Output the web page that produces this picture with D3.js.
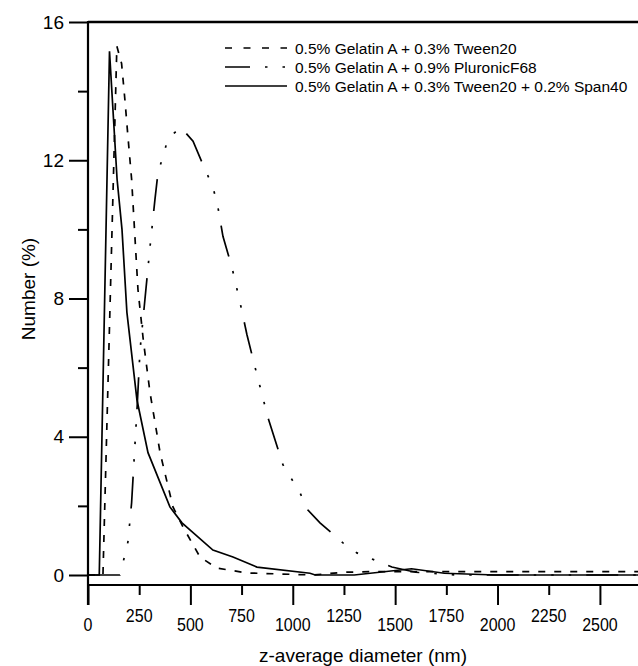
<!DOCTYPE html>
<html>
<head>
<meta charset="utf-8">
<script src="https://cdn.jsdelivr.net/npm/d3@7"></script>
<style>
    body { margin: 0; background: #fff; }
    svg { display: block; font-family: 'Liberation Sans', Arial, sans-serif; }
</style>
</head>
<body>
<div id="chart"></div>
<script>
// size distributions (diameter in nm, number in %)
const tweenDiameter = [0, 73, 141, 150, 164, 181, 192, 213, 244, 270, 303, 352, 415, 464, 547, 630, 776, 1100, 1250, 1400, 3000];
const tweenNumber = [0, 0, 15.3, 15.1, 14.8, 13.7, 12.9, 11.45, 8.26, 6.8, 5.27, 3.54, 1.97, 1.39, 0.52, 0.2, 0.06, 0, 0.08, 0.1, 0.1];

const pluronicDiameter = [0, 156, 181, 195, 213, 240, 254, 278, 303, 327, 342, 366, 391, 454, 513, 571, 605, 630, 659, 703, 742, 776, 815, 879, 952, 1035, 1074, 1133, 1245, 1313, 1401, 1484, 1600, 1800, 3000];
const pluronicNumber = [0, 0, 0.6, 0.96, 2.09, 4.87, 6.5, 7.97, 9.5, 10.87, 11.65, 12.1, 12.64, 12.95, 12.55, 11.74, 11.3, 10.8, 9.8, 8.9, 7.9, 6.96, 6.03, 4.55, 3.19, 2.38, 1.88, 1.51, 0.93, 0.64, 0.43, 0.23, 0.08, 0, 0];

const span40Diameter = [0, 55, 105, 142, 166, 190, 239, 293, 400, 459, 610, 708, 825, 1084, 1110, 1300, 1580, 1740, 1990, 3000];
const span40Number = [0, 0, 15.15, 11.45, 10.0, 7.6, 5.07, 3.54, 1.97, 1.51, 0.72, 0.52, 0.23, 0.05, 0, 0, 0.18, 0.05, 0, 0];

const seriesNames = [
    '0.5% Gelatin A + 0.3% Tween20',
    '0.5% Gelatin A + 0.9% PluronicF68',
    '0.5% Gelatin A + 0.3% Tween20 + 0.2% Span40',
];

const yMajorTicks = [0, 4, 8, 12, 16];
const yMinorTicks = [2, 6, 10, 14];
const xMajorTicks = [0, 500, 1000, 1500, 2000, 2500];
const xMinorTicks = [250, 750, 1250, 1750, 2250];
const xTickLabels = [0, 250, 500, 750, 1000, 1250, 1500, 1750, 2000, 2250, 2500];

const width = 638;
const height = 666;
const margin = { top: 22, left: 88, bottom: 585 };

const svg = d3
    .select('#chart')
    .append('svg')
    .attr('width', width)
    .attr('height', height);

const x = d3.scaleLinear().domain([0, 2686]).range([margin.left, width]);
const y = d3.scaleLinear().domain([0, 16]).range([575, margin.top]);

const series = [
    { name: seriesNames[0], xs: tweenDiameter, ys: tweenNumber, dash: '7,9', legendDash: '7,11.5', offset: 0 },
    { name: seriesNames[1], xs: pluronicDiameter, ys: pluronicNumber, dash: '32,15,2.5,15,2.5,15,2.5,15', legendDash: '32,15,2.5,15,2.5,15,2.5,15', offset: 7 },
    { name: seriesNames[2], xs: span40Diameter, ys: span40Number, dash: null, legendDash: null, offset: 0 },
];

svg.append('clipPath')
    .attr('id', 'plot-clip')
    .append('rect')
    .attr('x', margin.left)
    .attr('y', 0)
    .attr('width', width - margin.left)
    .attr('height', margin.bottom);

// curves
const line = d3
    .line()
    .x((d) => x(d[0]))
    .y((d) => y(d[1]));

svg.append('g')
    .attr('clip-path', 'url(#plot-clip)')
    .selectAll('path')
    .data(series)
    .join('path')
    .attr('d', (s) => line(s.xs.map((v, i) => [v, s.ys[i]])))
    .attr('fill', 'none')
    .attr('stroke', '#000')
    .attr('stroke-width', 1.7)
    .attr('stroke-dasharray', (s) => s.dash);

// y axis
const yMajor = svg
    .append('g')
    .attr('transform', `translate(${margin.left},0)`)
    .call(d3.axisLeft(y).tickValues(yMajorTicks).tickSize(19).tickPadding(5));
yMajor.select('.domain').remove();
yMajor.selectAll('line').attr('stroke-width', 2);
yMajor.selectAll('text')
    .attr('font-size', '19px')
    .attr('font-family', "'Liberation Sans', Arial, sans-serif")
    .attr('fill', '#000');

const yMinor = svg
    .append('g')
    .attr('transform', `translate(${margin.left},0)`)
    .call(d3.axisLeft(y).tickValues(yMinorTicks).tickSize(10).tickFormat(''));
yMinor.select('.domain').remove();
yMinor.selectAll('line').attr('stroke-width', 2);

// x axis
const xMajor = svg
    .append('g')
    .attr('transform', `translate(0,${margin.bottom})`)
    .call(d3.axisBottom(x).tickValues(xMajorTicks).tickSize(20).tickFormat(''));
xMajor.select('.domain').remove();
xMajor.selectAll('line').attr('stroke-width', 2);

const xMinor = svg
    .append('g')
    .attr('transform', `translate(0,${margin.bottom})`)
    .call(d3.axisBottom(x).tickValues(xMinorTicks).tickSize(10).tickFormat(''));
xMinor.select('.domain').remove();
xMinor.selectAll('line').attr('stroke-width', 2);

// staggered x labels, drawn a little taller than wide like the original
svg.append('g')
    .selectAll('text')
    .data(xTickLabels)
    .join('text')
    .attr('transform', (d, i) => `translate(${x(d)},${i % 2 ? 615 : 624}) scale(1,1.2)`)
    .attr('text-anchor', 'middle')
    .attr('dominant-baseline', 'central')
    .attr('font-size', '16px')
    .text((d) => d);

// frame lines
svg.append('line')
    .attr('x1', margin.left)
    .attr('x2', margin.left)
    .attr('y1', margin.top - 1)
    .attr('y2', margin.bottom + 20)
    .attr('stroke', '#000')
    .attr('stroke-width', 2.2);
svg.append('line')
    .attr('x1', margin.left)
    .attr('x2', width)
    .attr('y1', margin.bottom)
    .attr('y2', margin.bottom)
    .attr('stroke', '#000')
    .attr('stroke-width', 2.2);
svg.append('line')
    .attr('x1', margin.left)
    .attr('x2', width)
    .attr('y1', margin.top)
    .attr('y2', margin.top)
    .attr('stroke', '#000')
    .attr('stroke-width', 2.5);

// axis titles
svg.append('text')
    .attr('x', 363)
    .attr('y', 655)
    .attr('text-anchor', 'middle')
    .attr('dominant-baseline', 'central')
    .attr('font-size', '19px')
    .text('z-average diameter (nm)');

svg.append('text')
    .attr('transform', 'translate(28,289) rotate(-90)')
    .attr('text-anchor', 'middle')
    .attr('dominant-baseline', 'central')
    .attr('font-size', '19px')
    .text('Number (%)');

// legend
const legendRowY = [48, 67, 86];
const legend = svg
    .append('g')
    .selectAll('g')
    .data(series)
    .join('g')
    .attr('transform', (d, i) => `translate(0,${legendRowY[i]})`);

legend
    .append('line')
    .attr('x1', 225)
    .attr('x2', 287)
    .attr('stroke', '#000')
    .attr('stroke-width', 1.7)
    .attr('stroke-dasharray', (s) => s.legendDash)
    .attr('stroke-dashoffset', (s) => s.offset);

legend
    .append('text')
    .attr('x', 295)
    .attr('dominant-baseline', 'central')
    .attr('font-size', '15.5px')
    .text((s) => s.name);
</script>
</body>
</html>
